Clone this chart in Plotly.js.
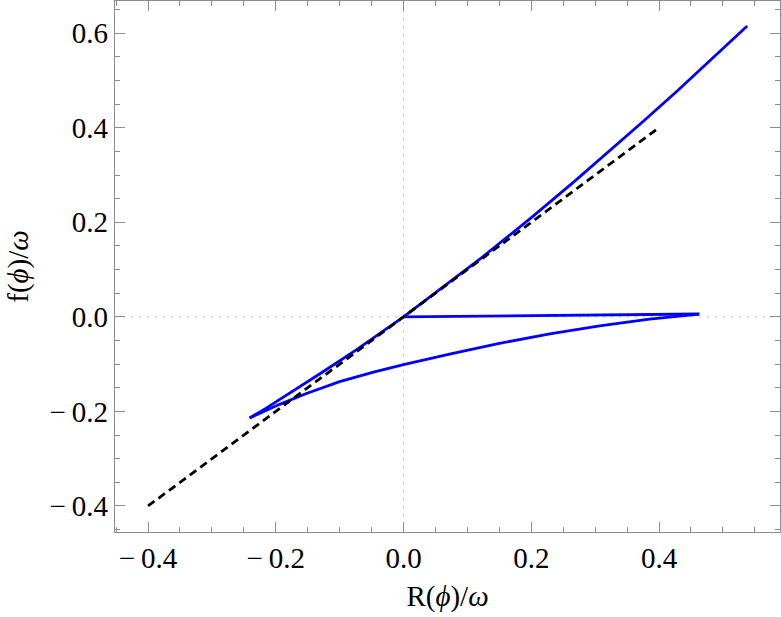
<!DOCTYPE html>
<html>
<head>
<meta charset="utf-8">
<script src="https://cdn.plot.ly/plotly-3.0.1.min.js"></script>
<style>
  html, body { margin: 0; padding: 0; background: #fff; }
  #plot { width: 781px; height: 617px; }
</style>
</head>
<body>
<div id="plot"></div>
<script>
// upper branch: from the top end down through the origin to the cusp
const upperR = [0.538, 0.479, 0.428, 0.375, 0.323, 0.268, 0.202, 0.124, 0.047, 0.0,
    -0.037, -0.074, -0.126, -0.178, -0.215, -0.241];
const upperF = [0.615, 0.540, 0.477, 0.413, 0.351, 0.287, 0.212, 0.127, 0.048, 0.0,
    -0.035, -0.070, -0.116, -0.162, -0.193, -0.214];

// lower branch: from the cusp to the right tip
const lowerR = [-0.241, -0.194, -0.152, -0.100, -0.047, 0.0, 0.072, 0.150, 0.229, 0.307, 0.385, 0.463];
const lowerF = [-0.214, -0.185, -0.162, -0.137, -0.117, -0.101, -0.079, -0.056, -0.036, -0.019, -0.005, 0.006];

// nearly flat part: from the right tip back to the origin
const flatR = [0.463, 0.30, 0.15, 0.0];
const flatF = [0.006, 0.004, 0.002, 0.0];

// reference line f = R
const refR = [-0.4, 0.4];
const refF = [-0.4, 0.4];

const tickVals = [-0.4, -0.2, 0.0, 0.2, 0.4, 0.6];
const tickText = ['\u2212\u20090.4', '\u2212\u20090.2', '0.0', '0.2', '0.4', '0.6'];

const frameColor = '#8c8c8c';
const font = { family: 'Liberation Serif, Times New Roman, serif', size: 29, color: '#000' };

function blue(xs, ys) {
    return {
        x: xs, y: ys,
        type: 'scatter', mode: 'lines',
        line: { color: '#0000ff', width: 2.8 },
        hoverinfo: 'skip'
    };
}

const traces = [
    blue(upperR, upperF),
    blue(lowerR, lowerF),
    blue(flatR, flatF),
    {
        x: refR, y: refF,
        type: 'scatter', mode: 'lines',
        line: { color: '#000', width: 2.8, dash: '8px,5px' },
        hoverinfo: 'skip'
    }
];

function axis(title, range) {
    return {
        range: range,
        title: { text: title, font: font, standoff: 12 },
        tickmode: 'array',
        tickvals: tickVals,
        ticktext: tickText,
        tickfont: font,
        ticks: 'inside',
        ticklen: 10,
        tickwidth: 1,
        tickcolor: frameColor,
        minor: { tickmode: 'linear', tick0: 0, dtick: 0.05, ticks: 'inside', ticklen: 5, tickwidth: 1, tickcolor: frameColor },
        showline: true,
        linecolor: frameColor,
        linewidth: 1.3,
        mirror: 'allticks',
        showgrid: false,
        zeroline: false
    };
}

const layout = {
    width: 781,
    height: 617,
    margin: { l: 115, r: 1, t: 1, b: 85 },
    paper_bgcolor: '#fff',
    plot_bgcolor: '#fff',
    showlegend: false,
    xaxis: axis('R(<i>\u03d5</i>)/<i>\u03c9</i>', [-0.4517, 0.5894]),
    yaxis: axis('f(<i>\u03d5</i>)/<i>\u03c9</i>', [-0.455, 0.668]),
    shapes: [
        { type: 'line', xref: 'x', yref: 'paper', x0: 0, x1: 0, y0: 0, y1: 1,
          line: { color: '#c8c8c8', width: 1.2, dash: '2px,6px' }, layer: 'below' },
        { type: 'line', xref: 'paper', yref: 'y', x0: 0, x1: 1, y0: 0, y1: 0,
          line: { color: '#c8c8c8', width: 1.2, dash: '2px,6px' }, layer: 'below' }
    ]
};

Plotly.newPlot('plot', traces, layout, { staticPlot: true, displayModeBar: false });
</script>
</body>
</html>
